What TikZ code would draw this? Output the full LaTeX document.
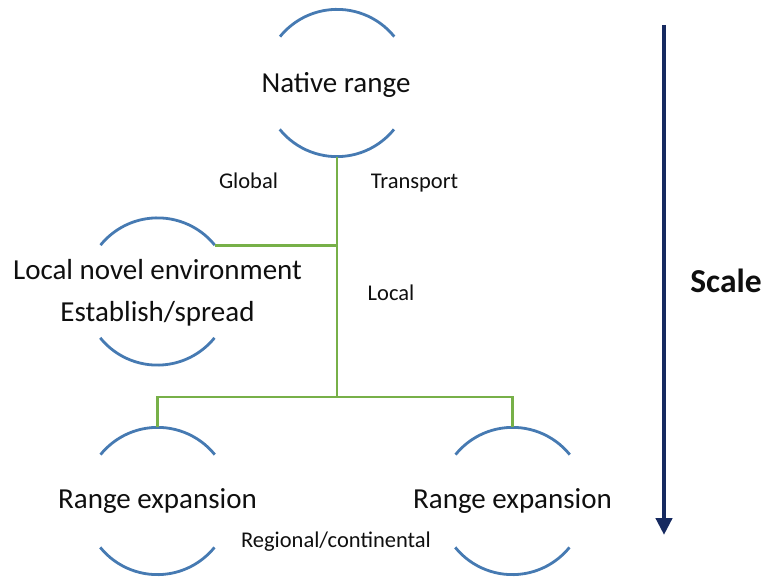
\documentclass[tikz,border=0pt]{standalone}
\usepackage{fontspec}
\setmainfont{Carlito}
\usetikzlibrary{arrows.meta}
\definecolor{arcblue}{RGB}{70,122,178}
\definecolor{linkgreen}{RGB}{119,176,72}
\definecolor{scalenavy}{RGB}{22,42,96}
\definecolor{ink}{RGB}{15,15,15}
\tikzset{
  stage/.style={circle,minimum size=147pt,inner sep=0pt},
  stagearc/.style={draw=arcblue,line width=2.8pt},
  link/.style={draw=linkgreen,line width=2.8pt},
  bigtext/.style={anchor=base,inner sep=0pt,text=ink,font=\fontsize{29}{34}\selectfont},
  smalltext/.style={anchor=base,inner sep=0pt,text=ink,font=\fontsize{22.5}{27}\selectfont},
}
\begin{document}
\begin{tikzpicture}[x=1pt,y=1pt]
\useasboundingbox (0,0) rectangle (765,576);

% stage circles (only the upper and lower arcs are drawn)
\node[stage] (native) at (337,493) {};
\node[stage] (local)  at (157.5,284.5) {};
\node[stage] (rea)    at (157.5,75) {};
\node[stage] (reb)    at (512.5,75) {};

\foreach \s in {native,local,rea,reb}{
  \draw[stagearc] (\s.39) arc[start angle=39,end angle=141,radius=73.5pt];
  \draw[stagearc] (\s.219) arc[start angle=219,end angle=321,radius=73.5pt];
}

% stage labels
\node[bigtext] (tnative) at (336,483) {Native range};
\node[bigtext] (tlocal1) at (157.5,296) {Local novel environment};
\node[bigtext] (tlocal2) at (157.5,254) {Establish/spread};
\node[bigtext] (trea)    at (157.5,68) {Range expansion};
\node[bigtext] (treb)    at (512.5,68) {Range expansion};

% green links between stages
\coordinate (split) at (native.south |- 0,179);
\draw[link] (native.south) -- (split);
\draw[link] (local.39) -- (local.39 -| native.south);
\draw[link] (rea.north) -- (rea.north |- split) -- (reb.north |- split) -- (reb.north);

% link labels
\node[smalltext] (lglobal)    at (248.5,387) {Global};
\node[smalltext] (ltransport) at (414.5,387) {Transport};
\node[smalltext] (llocal)     at (391,275) {Local};
\node[smalltext] (lregional)  at (336,29) {Regional/continental};

% scale arrow
\coordinate (scaletop) at (664,551);
\coordinate (scalebot) at (664,41);
\draw[scalenavy,line width=4.5pt,-{Triangle[width=16pt,length=17pt]}] (scaletop) -- (scalebot);
\node[anchor=base,inner sep=0pt,text=ink,font=\fontsize{33.5}{40}\selectfont\bfseries] (scale) at (726,283) {Scale};
\end{tikzpicture}
\end{document}
